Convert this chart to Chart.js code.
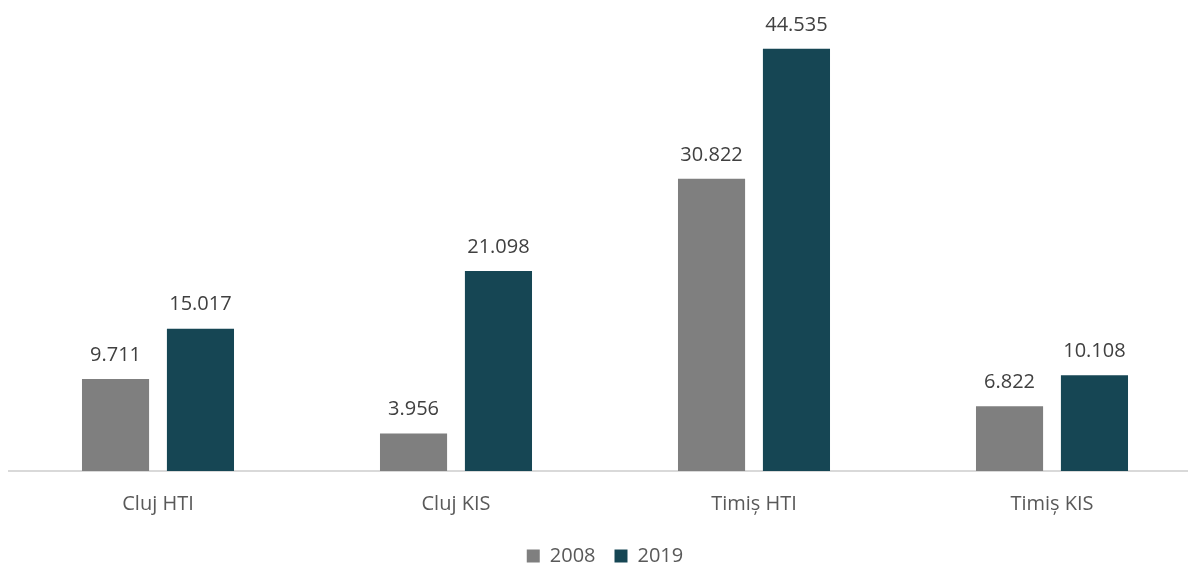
<!DOCTYPE html>
<html>
<head>
<meta charset="utf-8">
<script src="https://cdn.jsdelivr.net/npm/chart.js@4.4.0/dist/chart.umd.min.js"></script>
<style>
  html, body { margin: 0; padding: 0; background: #fff; overflow: hidden; }
  #wrap { width: 1210px; height: 565px; position: relative; }
</style>
</head>
<body>
<div id="wrap"><canvas id="myChart"></canvas></div>
<script>
// categorii și valori
const categories = ['Cluj HTI', 'Cluj KIS', 'Timiș HTI', 'Timiș KIS'];
const values2008 = [9711, 3956, 30822, 6822];
const values2019 = [15017, 21098, 44535, 10108];

const FONT = "'Open Sans', 'Noto Sans', sans-serif";
const TEXT_COLOR = '#595959';

// 15017 -> "15.017"
function formatValue(v) {
  return String(v).replace(/\B(?=(\d{3})+(?!\d))/g, '.');
}

// etichetele cu valori deasupra barelor
const valueLabels = {
  id: 'valueLabels',
  afterDatasetsDraw(chart) {
    const c = chart.ctx;
    c.save();
    c.font = '20px ' + FONT;
    c.fillStyle = '#404040';
    c.textAlign = 'center';
    c.textBaseline = 'bottom';
    chart.data.datasets.forEach((ds, i) => {
      chart.getDatasetMeta(i).data.forEach((bar, j) => {
        c.fillText(formatValue(ds.data[j]), bar.x, bar.y - 14);
      });
    });
    c.restore();
  }
};

const ctx = document.getElementById('myChart').getContext('2d');

new Chart(ctx, {
  type: 'bar',
  data: {
    labels: categories,
    datasets: [
      {
        label: '2008',
        data: values2008,
        backgroundColor: '#7f7f7f',
        categoryPercentage: 0.57,
        barPercentage: 0.79
      },
      {
        label: '2019',
        data: values2019,
        backgroundColor: '#164654',
        categoryPercentage: 0.57,
        barPercentage: 0.79
      }
    ]
  },
  options: {
    responsive: true,
    maintainAspectRatio: false,
    animation: false,
    layout: {
      padding: { left: 9, right: 9, top: 16, bottom: -11 }
    },
    scales: {
      x: {
        grid: { display: false },
        border: { display: true, color: '#d9d9d9', width: 2 },
        ticks: {
          color: TEXT_COLOR,
          font: { family: FONT, size: 20 },
          padding: 13
        },
        // spațiu fix sub axă până la legendă
        afterFit(scale) {
          scale.height = 56;
        }
      },
      y: {
        display: false,
        min: 0,
        max: 48000
      }
    },
    plugins: {
      legend: {
        position: 'bottom',
        labels: {
          boxWidth: 13,
          boxHeight: 13,
          padding: 19,
          color: TEXT_COLOR,
          font: { family: FONT, size: 20 }
        }
      },
      tooltip: { enabled: false }
    }
  },
  plugins: [valueLabels]
});
</script>
</body>
</html>
